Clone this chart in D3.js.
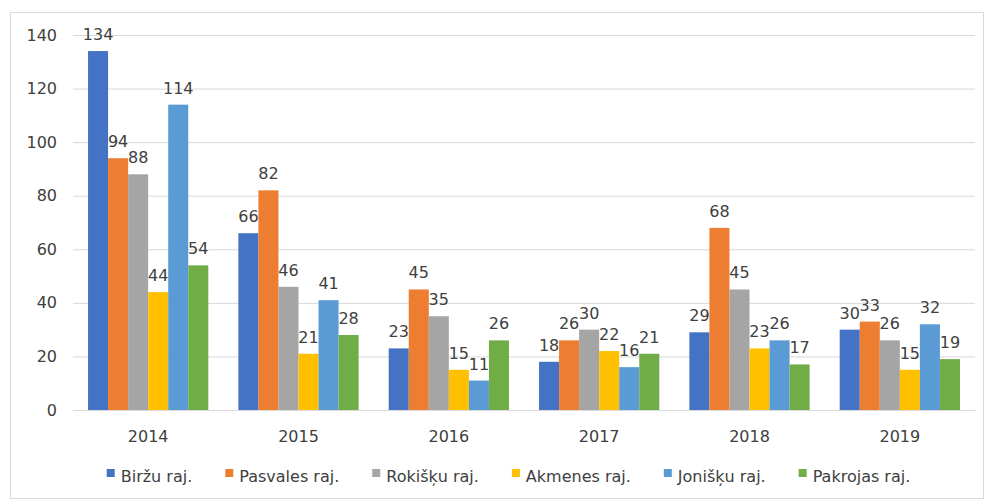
<!DOCTYPE html>
<html><head><meta charset="utf-8">
<script src="https://cdn.jsdelivr.net/npm/d3@7"></script>
<style>body{margin:0;background:#fff}svg{display:block}text{font-family:"DejaVu Sans",Verdana,sans-serif;fill:#404040}</style>
</head><body><svg id="c" width="984" height="500"></svg>
<script>
const years = ["2014","2015","2016","2017","2018","2019"];
const seriesNames = ["Biržu raj.","Pasvales raj.","Rokišķu raj.","Akmenes raj.","Jonišķu raj.","Pakrojas raj."];
const colors = ["#4472C4","#ED7D31","#A5A5A5","#FFC000","#5B9BD5","#70AD47"];
const birzu    = [134,66,23,18,29,30];
const pasvales = [94,82,45,26,68,33];
const rokisku  = [88,46,35,30,45,26];
const akmenes  = [44,21,15,22,23,15];
const jonisku  = [114,41,11,16,26,32];
const pakrojas = [54,28,26,21,17,19];
const seriesValues = [birzu,pasvales,rokisku,akmenes,jonisku,pakrojas];
const yTicks = [0,20,40,60,80,100,120,140];

const FS = 16;
const svg = d3.select("#c");
svg.append("rect").attr("x",10.5).attr("y",12.5).attr("width",973).attr("height",486)
  .attr("fill","#fff").attr("stroke","#d9d9d9");

const x0 = d3.scaleBand().domain(years).range([73,975]).paddingInner(0.2).paddingOuter(0.1);
const x1 = d3.scaleBand().domain(d3.range(seriesNames.length)).range([0,x0.bandwidth()]);
const y = d3.scaleLinear().domain([0,140]).range([410,35]);

const yAxis = d3.axisLeft(y).tickValues(yTicks).tickSize(-(975-73)).tickPadding(16);
const gy = svg.append("g").attr("transform","translate(73,0)").call(yAxis);
gy.select(".domain").remove();
gy.selectAll(".tick line").attr("stroke","#d9d9d9");
gy.selectAll(".tick text").attr("font-size",FS).attr("font-family",null).style("fill","#404040");

const xAxis = d3.axisBottom(x0).tickSize(0).tickPadding(21);
const gx = svg.append("g").attr("transform","translate(0,410)").call(xAxis);
gx.select(".domain").attr("stroke","#d9d9d9");
gx.selectAll(".tick text").attr("font-size",FS).attr("font-family",null).style("fill","#404040");

const groups = svg.append("g").selectAll("g").data(years).join("g")
  .attr("transform",d=>`translate(${x0(d)},0)`);
groups.each(function(yr,i){
  const g = d3.select(this);
  seriesValues.forEach((vals,s)=>{
    g.append("rect").attr("x",x1(s)).attr("width",x1.bandwidth())
      .attr("y",y(vals[i])).attr("height",y(0)-y(vals[i])).attr("fill",colors[s]);
  });
  seriesValues.forEach((vals,s)=>{
    g.append("text").attr("x",x1(s)+x1.bandwidth()/2).attr("y",y(vals[i])-11)
      .attr("text-anchor","middle").attr("font-size",FS).text(vals[i]);
  });
});

// legend laid out from measured text widths, centred under the plot
const legend = svg.append("g").attr("transform","translate(0,482)");
const items = seriesNames.map((n,s)=>{
  const g = legend.append("g");
  g.append("rect").attr("x",0).attr("y",-13).attr("width",8).attr("height",8).attr("fill",colors[s]);
  const t = g.append("text").attr("x",14).attr("y",0).attr("font-size",FS).text(n);
  return {g, w: 14 + t.node().getComputedTextLength()};
});
const gap = 33;
const total = d3.sum(items,d=>d.w) + gap*(items.length-1);
let cx = 508.5 - total/2;
items.forEach(it=>{ it.g.attr("transform",`translate(${cx},0)`); cx += it.w + gap; });
</script></body></html>
